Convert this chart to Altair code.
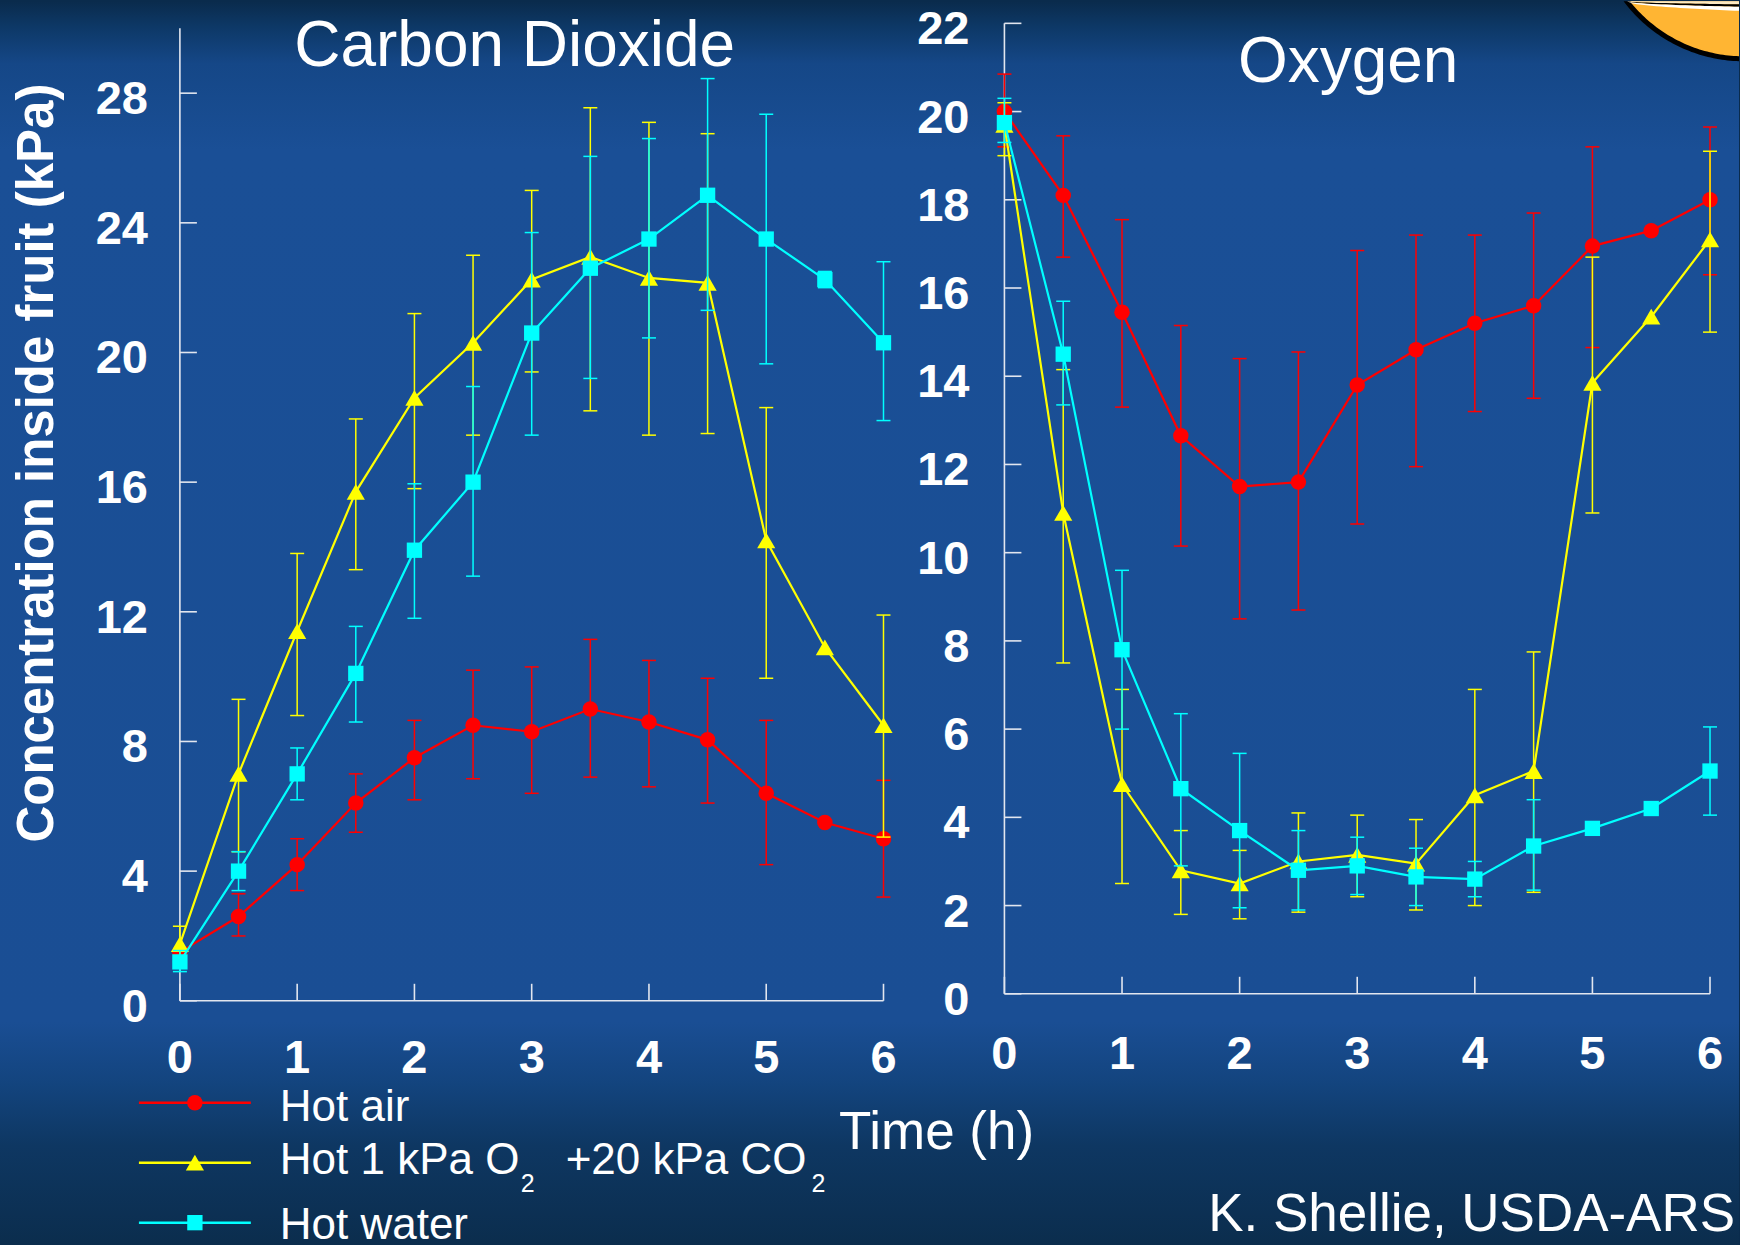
import altair as alt
import numpy as np
import pandas as pd

FONT = "Liberation Sans"

# ---------------------------------------------------------------- data
hours = [0, 0.5, 1, 1.5, 2, 2.5, 3, 3.5, 4, 4.5, 5, 5.5, 6]

# Carbon dioxide inside the fruit (kPa)
co2_hot_air = [1.5, 2.6, 4.2, 6.1, 7.5, 8.5, 8.3, 9.0, 8.6, 8.05, 6.4, 5.5, 5.0]
co2_hot_air_hi = [None, 3.3, 5.0, 7.0, 8.65, 10.2, 10.3, 11.15, 10.5, 9.95, 8.65, None, 6.8]
co2_hot_air_lo = [None, 2.0, 3.4, 5.2, 6.2, 6.85, 6.4, 6.9, 6.6, 6.1, 4.2, None, 3.2]

co2_hot_ca = [1.75, 7.0, 11.4, 15.7, 18.6, 20.3, 22.25, 22.95, 22.3, 22.15, 14.2, 10.9, 8.5]
co2_hot_ca_hi = [2.3, 9.3, 13.8, 17.95, 21.2, 23.0, 25.0, 27.55, 27.1, 26.75, 18.3, None, 11.9]
co2_hot_ca_lo = [1.2, 4.6, 8.8, 13.3, 15.8, 17.45, 19.4, 18.2, 17.45, 17.5, 9.95, None, 5.05]

co2_hot_water = [1.2, 4.0, 7.0, 10.1, 13.9, 16.0, 20.6, 22.6, 23.5, 24.85, 23.5, 22.25, 20.3]
co2_hot_water_hi = [1.55, 4.6, 7.8, 11.55, 15.95, 18.95, 23.7, 26.05, 26.6, 28.45, 27.35, 22.5, 22.8]
co2_hot_water_lo = [0.9, 3.4, 6.2, 8.6, 11.8, 13.1, 17.45, 19.2, 20.45, 21.3, 19.65, 22.0, 17.9]

# Oxygen inside the fruit (kPa)
o2_hot_air = [20.0, 18.1, 15.45, 12.65, 11.5, 11.6, 13.8, 14.6, 15.2, 15.6, 16.95, 17.3, 18.0]
o2_hot_air_hi = [20.85, 19.45, 17.55, 15.15, 14.4, 14.55, 16.85, 17.2, 17.2, 17.7, 19.2, None, 19.65]
o2_hot_air_lo = [19.2, 16.7, 13.3, 10.15, 8.5, 8.7, 10.65, 11.95, 13.2, 13.5, 14.65, None, 16.3]

o2_hot_ca = [19.7, 10.9, 4.75, 2.8, 2.5, 3.0, 3.15, 2.95, 4.5, 5.05, 13.85, 15.35, 17.1]
o2_hot_ca_hi = [20.2, 14.15, 6.9, 3.7, 3.25, 4.1, 4.05, 3.95, 6.9, 7.75, 16.7, None, 19.1]
o2_hot_ca_lo = [19.0, 7.5, 2.5, 1.8, 1.7, 1.85, 2.2, 1.9, 2.0, 2.3, 10.9, None, 15.0]

o2_hot_water = [19.75, 14.5, 7.8, 4.65, 3.7, 2.8, 2.9, 2.65, 2.6, 3.35, 3.75, 4.2, 5.05]
o2_hot_water_hi = [20.3, 15.7, 9.6, 6.35, 5.45, 3.7, 3.55, 3.3, 3.0, 4.4, None, None, 6.05]
o2_hot_water_lo = [19.3, 13.35, 6.0, 2.9, 1.95, 1.9, 2.25, 2.0, 2.2, 2.35, None, None, 4.05]

series_colors = ["#ff0000", "#ffff00", "#00ffff"]
series_shapes = ["circle", "triangle-up", "square"]
series_sizes = [240, 330, 235]

time_ticks = [0, 1, 2, 3, 4, 5, 6]
co2_ticks = [0, 4, 8, 12, 16, 20, 24, 28]
o2_ticks = [0, 2, 4, 6, 8, 10, 12, 14, 16, 18, 20, 22]

# ---------------------------------------------------------------- layout
LEFT_W, LEFT_H = 704, 978
RIGHT_W, RIGHT_H = 706, 971
CO2_MAX = 30 * LEFT_H / 973.0
AXIS_COLOR = "#e2e6ef"
TICK_LEN = 17
LABEL_SIZE = 47

one_row = alt.Data(values=[{}])


def text(label, x, y, size, weight="normal", align="left", angle=0):
    kw = dict(text=label, font=FONT, fontSize=size, fontWeight=weight, color="white",
              align=align, baseline="alphabetic")
    if angle:
        kw["angle"] = angle
    return alt.Chart(one_row).mark_text(**kw).encode(x=alt.value(x), y=alt.value(y))


def panel(series, y_max, y_ticks, w, h, top, x_label_y, y_label_x):
    xs = alt.Scale(domain=[0, 6], nice=False, zero=False)
    ys = alt.Scale(domain=[0, y_max], nice=False, zero=True)
    layers = []
    # axis lines with inward ticks
    layers.append(alt.Chart(one_row).mark_rule(color=AXIS_COLOR, strokeWidth=1.6).encode(
        x=alt.value(0), y=alt.value(top), y2=alt.value(h)))
    layers.append(alt.Chart(one_row).mark_rule(color=AXIS_COLOR, strokeWidth=1.6).encode(
        x=alt.value(0), x2=alt.value(w), y=alt.value(h)))
    ydf = pd.DataFrame({"v": y_ticks, "lab": [str(v) for v in y_ticks]})
    xdf = pd.DataFrame({"v": time_ticks, "lab": [str(v) for v in time_ticks]})
    layers.append(alt.Chart(ydf).mark_rule(color=AXIS_COLOR, strokeWidth=1.6).encode(
        y=alt.Y("v:Q", scale=ys, axis=None), x=alt.value(0), x2=alt.value(TICK_LEN)))
    layers.append(alt.Chart(xdf).mark_rule(color=AXIS_COLOR, strokeWidth=1.6).encode(
        x=alt.X("v:Q", scale=xs, axis=None), y=alt.value(h - TICK_LEN), y2=alt.value(h)))
    # tick labels
    layers.append(alt.Chart(ydf).mark_text(
        font=FONT, fontSize=LABEL_SIZE, fontWeight="bold", color="white",
        align="right", baseline="alphabetic", dy=21).encode(
        y=alt.Y("v:Q", scale=ys, axis=None), x=alt.value(y_label_x), text="lab:N"))
    layers.append(alt.Chart(xdf).mark_text(
        font=FONT, fontSize=LABEL_SIZE, fontWeight="bold", color="white",
        align="center", baseline="alphabetic").encode(
        x=alt.X("v:Q", scale=xs, axis=None), y=alt.value(x_label_y), text="lab:N"))

    for (vals, hi, lo), color, shape, size in zip(series, series_colors, series_shapes, series_sizes):
        df = pd.DataFrame({"t": hours, "v": vals, "hi": hi, "lo": lo}).astype(float)
        bars = df.dropna(subset=["hi", "lo"], how="all").copy()
        bars["hi"] = bars["hi"].fillna(bars["v"])
        bars["lo"] = bars["lo"].fillna(bars["v"])
        X = alt.X("t:Q", scale=xs, axis=None)
        layers.append(alt.Chart(bars).mark_rule(color=color, strokeWidth=1.5).encode(
            x=X, y=alt.Y("lo:Q", scale=ys, axis=None), y2="hi:Q"))
        for end in ("hi", "lo"):
            layers.append(alt.Chart(bars).mark_rule(
                color=color, strokeWidth=1.5, xOffset=-7, x2Offset=7).encode(
                x=X, x2="t:Q", y=alt.Y(f"{end}:Q", scale=ys, axis=None)))
        layers.append(alt.Chart(df).mark_line(color=color, strokeWidth=2.2).encode(
            x=X, y=alt.Y("v:Q", scale=ys, axis=None)))
        layers.append(alt.Chart(df).mark_point(
            shape=shape, size=size, filled=True, color=color, opacity=1).encode(
            x=X, y=alt.Y("v:Q", scale=ys, axis=None)))
    return layers


# ---------------------------------------------------------------- backdrop
backdrop = alt.Chart(one_row).mark_rect(
    fill=alt.LinearGradient(
        gradient="linear", x1=0, x2=0, y1=0, y2=1,
        stops=[alt.GradientStop(color="#0a2b4c", offset=0.0),
               alt.GradientStop(color="#0d3866", offset=0.02),
               alt.GradientStop(color="#154787", offset=0.05),
               alt.GradientStop(color="#1a4f96", offset=0.12),
               alt.GradientStop(color="#1a4e94", offset=0.82),
               alt.GradientStop(color="#13447e", offset=0.87),
               alt.GradientStop(color="#0e3762", offset=0.92),
               alt.GradientStop(color="#0b2d4d", offset=1.0)])
).encode(x=alt.value(-180), x2=alt.value(1560), y=alt.value(-22), y2=alt.value(1223))

# orange bowl emblem peeking in at the top-right corner, drawn as filled symbol
# paths in a unit box centred at (EM_CX, EM_CY) page pixels
EM_CX, EM_CY, EM_HALF = 1680.0, 60.0, 58.0
BOWL_X, BOWL_Y = 1745.0, -91.0


def unit_path(px, py):
    pts = [f"{(x - EM_CX) / EM_HALF:.4f},{(y - EM_CY) / EM_HALF:.4f}" for x, y in zip(px, py)]
    return "M" + " L".join(pts) + " Z"


def bowl_arc(r, n=48):
    a0 = np.pi - np.arcsin(-BOWL_Y / r)
    a1 = np.arccos((1740.0 - BOWL_X) / r)
    a = np.linspace(a0, a1, n)
    return BOWL_X + r * np.cos(a), BOWL_Y + r * np.sin(a)


ox, oy = bowl_arc(147)
bowl_fill = unit_path(list(ox) + [1740.0], list(oy) + [0.0])
ax_o, ay_o = bowl_arc(151)
ax_i, ay_i = bowl_arc(146)
bowl_edge = unit_path(list(ax_o) + list(ax_i[::-1]), list(ay_o) + list(ay_i[::-1]))

rx = np.linspace(1628, 1740, 24)
s = np.sqrt((rx - 1628) / 112.0)


def band(y_top, y_bot):
    return unit_path(list(rx) + list(rx[::-1]), list(y_top) + list(y_bot[::-1]))


rim_cream = band(0 * s, 3.0 * s)
rim_black = band(3.0 * s, 5.5 * s)
rim_white = band(5.5 * s, 9.5 * s)


def emblem(path, color):
    return alt.Chart(one_row).mark_point(
        shape=path, size=(2 * EM_HALF) ** 2, filled=True, fill=color, strokeWidth=0, opacity=1
    ).encode(x=alt.value(EM_CX - 180), y=alt.value(EM_CY - 22))


logo = [emblem(bowl_fill, "#ffb533"), emblem(bowl_edge, "#000000"),
        emblem(rim_cream, "#fbe9c4"), emblem(rim_black, "#000000"),
        emblem(rim_white, "#ffffff")]

# ---------------------------------------------------------------- legend
legend = []
legend_rows = [1080, 1140, 1200]
for color, shape, size, yy in zip(series_colors, series_shapes, series_sizes, legend_rows):
    legend.append(alt.Chart(one_row).mark_rule(color=color, strokeWidth=2.5).encode(
        x=alt.value(-41), x2=alt.value(71), y=alt.value(yy)))
    legend.append(alt.Chart(one_row).mark_point(
        shape=shape, size=size, filled=True, color=color, opacity=1).encode(
        x=alt.value(15), y=alt.value(yy)))
legend += [
    text("Hot air", 100, 1098, 44),
    text("Hot 1 kPa O", 100, 1151, 44),
    text("2", 341, 1169, 25),
    text("+20 kPa CO", 386, 1151, 44),
    text("2", 632, 1169, 25),
    text("Hot water", 100, 1216, 44),
]

co2_series = [(co2_hot_air, co2_hot_air_hi, co2_hot_air_lo),
              (co2_hot_ca, co2_hot_ca_hi, co2_hot_ca_lo),
              (co2_hot_water, co2_hot_water_hi, co2_hot_water_lo)]
o2_series = [(o2_hot_air, o2_hot_air_hi, o2_hot_air_lo),
             (o2_hot_ca, o2_hot_ca_hi, o2_hot_ca_lo),
             (o2_hot_water, o2_hot_water_hi, o2_hot_water_lo)]

left_layers = [backdrop] + logo + panel(co2_series, CO2_MAX, co2_ticks, LEFT_W, LEFT_H, 5,
                                        LEFT_H + 72, -32)
left_layers += [
    text("Carbon Dioxide", 335, 43, 64, align="center"),
    text("Concentration inside fruit (kPa)", -127, 440, 51, weight="bold", align="center", angle=270),
    text("Time (h)", 757, 1126, 53, align="center"),
    text("K. Shellie, USDA-ARS", 1556, 1208, 53, align="right"),
] + legend

right_layers = panel(o2_series, 22, o2_ticks, RIGHT_W, RIGHT_H, 0, RIGHT_H + 75, -35)
right_layers += [text("Oxygen", 344, 59, 64, align="center")]

left = alt.layer(*left_layers).properties(width=LEFT_W, height=LEFT_H)
right = alt.layer(*right_layers).properties(width=RIGHT_W, height=RIGHT_H)

chart = alt.hconcat(left, right, spacing=121, bounds="flush", padding=0,
                    background="#0a2b4c").configure_view(strokeOpacity=0)

chart.save("out.html", embed_options={"renderer": "svg", "actions": False})
